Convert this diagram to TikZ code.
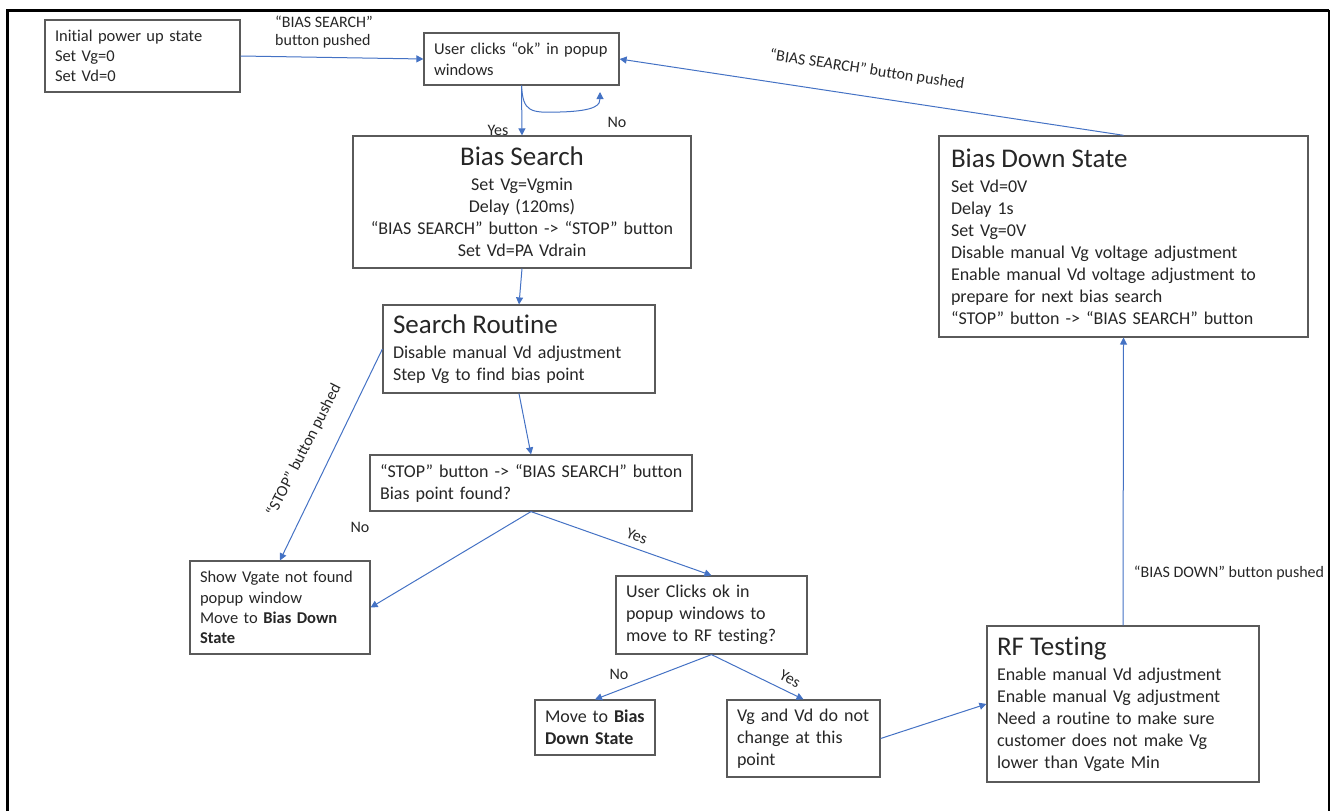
\documentclass[tikz,border=0pt]{standalone}
\usepackage{fontspec}
\setmainfont{Carlito}[Ligatures={TeX,NoCommon}]
\usetikzlibrary{arrows.meta}
\definecolor{arrowblue}{HTML}{4472C4}
\definecolor{boxgray}{HTML}{5A5A5A}
\definecolor{inktxt}{HTML}{262626}
\newcommand\fsmall{\fontsize{16.5}{20.3}\selectfont}
\newcommand\fbody{\fontsize{18}{22}\selectfont}
\newcommand\fhead{\fontsize{27}{30}\selectfont}
\newcommand\flabel{\fontsize{16}{18}\selectfont}
\newcommand\boxhead[1]{{\fhead #1\par}\vspace{3pt}}
\begin{document}
\begin{tikzpicture}[x=1pt,y=-1pt,
  box/.style={draw=boxgray, line width=1.2pt, inner xsep=10pt, inner ysep=0pt, text=inktxt, align=left, font=\fbody},
  cbox/.style={box, align=center},
  arr/.style={draw=arrowblue, line width=1pt, -{Triangle[length=7pt,width=7pt]}},
  lbl/.style={text=inktxt, font=\flabel, inner sep=0pt, align=left}]
\useasboundingbox (0,0) rectangle (1330,811);
% frame
\draw[line width=3pt] (7,811) -- (7,10) -- (1329,10);
\draw[line width=1.5pt] (1329,10) -- (1329,811);

% boxes
\node[box, font=\fsmall, minimum width=195pt, minimum height=72pt, text width=175pt] (init) at (142.5,56) {Initial power up state\\Set Vg=0\\Set Vd=0};
\node[box, font=\fsmall, minimum width=195pt, minimum height=52pt, text width=175pt] (user) at (521.5,59) {\mbox{User clicks “ok” in popup}\\windows};
\node[cbox, minimum width=338pt, minimum height=132pt, text width=318pt] (bs) at (522,202) {\boxhead{Bias Search}Set Vg=Vgmin\\Delay (120ms)\\\mbox{“BIAS SEARCH” button -> “STOP” button}\\Set Vd=PA Vdrain};
\node[box, minimum width=272pt, minimum height=88pt, text width=252pt] (sr) at (519,349) {\boxhead{Search Routine}Disable manual Vd adjustment\\Step Vg to find bias point};
\node[box, minimum width=322pt, minimum height=56pt, text width=302pt] (stop) at (531,483) {\mbox{“STOP” button -> “BIAS SEARCH” button}\\Bias point found?};
\node[box, font=\fsmall, minimum width=180pt, minimum height=93pt, text width=160pt] (show) at (280,607.5) {Show Vgate not found\\popup window\\Move to \textbf{Bias Down}\\\textbf{State}};
\node[box, minimum width=191pt, minimum height=78pt, text width=171pt] (uc) at (711.5,615) {User Clicks ok in\\popup windows to\\move to RF testing?};
\node[box, minimum width=120pt, minimum height=55pt, text width=100pt] (mv) at (595,727.5) {\mbox{Move to \textbf{Bias}}\\\textbf{Down State}};
\node[box, minimum width=153pt, minimum height=77pt, text width=133pt] (vg) at (803.5,738.5) {Vg and Vd do not\\change at this\\point};
\node[box, minimum width=272pt, minimum height=156pt, text width=252pt] (rf) at (1123,704) {\boxhead{RF Testing}Enable manual Vd adjustment\\Enable manual Vg adjustment\\Need a routine to make sure\\customer does not make Vg\\lower than Vgate Min};
\node[box, inner xsep=12pt, minimum width=369pt, minimum height=201pt, text width=345pt] (bd) at (1123.5,236.4) {\boxhead{Bias Down State}Set Vd=0V\\Delay 1s\\Set Vg=0V\\Disable manual Vg voltage adjustment\\\mbox{Enable manual Vd voltage adjustment to}\\prepare for next bias search\\\mbox{“STOP” button -> “BIAS SEARCH” button}};

% connectors
\coordinate (loopend) at (600,92);
\draw[arr] (init.east) -- (user.west);
\draw[arr] (user.south) -- (bs.north);
\draw[arr] (user.south) .. controls (523,112) and (530,113) .. (560,112) .. controls (598,111) and (600,104) .. (loopend);
\draw[arr] (bd.north) -- (user.east);
\draw[arr] (bs.south) -- (sr.north);
\draw[arr] (sr.south) -- (stop.north);
\draw[arr] (sr.west) -- (show.north);
\draw[arr] (stop.south) -- (show.east);
\draw[arr] (stop.south) -- (uc.north);
\draw[arr] (uc.south) -- (mv.north);
\draw[arr] (uc.south) -- (vg.north);
\draw[arr] (vg.east) -- (rf.west);
\draw[arr] (rf.north) -- (bd.south);

% labels
\node[lbl, anchor=west] (l1) at (275,32) {“BIAS SEARCH”\\button pushed};
\node[lbl, rotate=-8.6] (l2) at (867,70) {“BIAS SEARCH” button pushed};
\node[lbl] (l3) at (498,130) {Yes};
\node[lbl] (l4) at (617,122) {No};
\node[lbl, rotate=63] (l5) at (304,450) {“STOP” button pushed};
\node[lbl] (l6) at (360,527) {No};
\node[lbl, rotate=-20] (l7) at (637,536) {Yes};
\node[lbl] (l8) at (619,674) {No};
\node[lbl, rotate=-28] (l9) at (790,679) {Yes};
\node[lbl] (l10) at (1229,573) {“BIAS DOWN” button pushed};
\end{tikzpicture}
\end{document}
